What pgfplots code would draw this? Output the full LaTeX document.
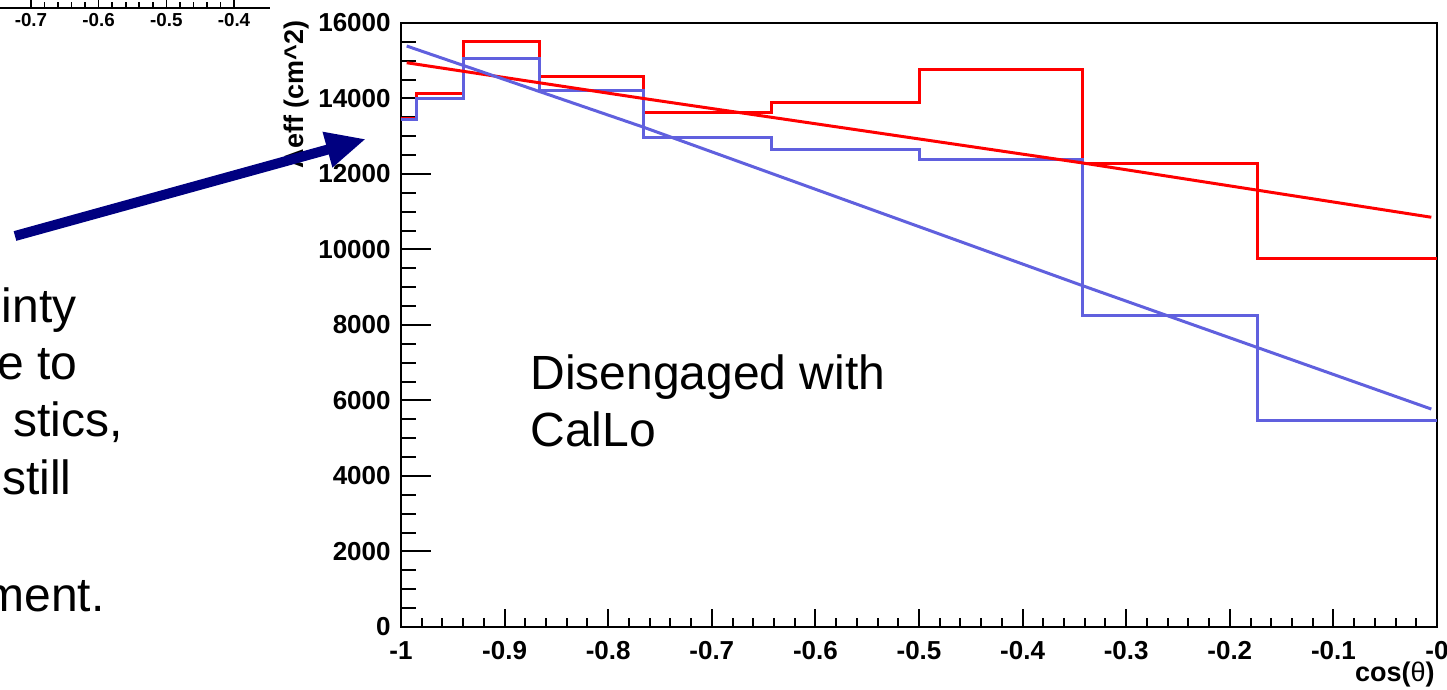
\documentclass[border=0pt]{standalone}
\usepackage{pgfplots}
\pgfplotsset{compat=1.18}
\usepackage{fontspec}
\setmainfont{Liberation Sans}
\usetikzlibrary{arrows.meta}
\definecolor{rootred}{RGB}{255,0,0}
\definecolor{rootblue}{RGB}{96,96,222}
\definecolor{arrownavy}{RGB}{0,0,128}

\begin{document}
\begin{tikzpicture}
\useasboundingbox (0,0) rectangle (723.5pt,345pt);

% fragment of the neighbouring plot (cut off at the top left)
\begin{axis}[
  at={(-18.35pt,341pt)}, anchor=south west,
  scale only axis, width=153.35pt, height=20pt,
  xmin=-0.8, xmax=-0.3468, ymin=0, ymax=1,
  axis x line*=bottom, axis y line=none,
  tick align=inside,
  xtick={-0.7,-0.6,-0.5,-0.4},
  xticklabels={-0.7,-0.6,-0.5,-0.4},
  extra x ticks={-0.8}, extra x tick labels={},
  minor x tick num=4,
  major tick length=6pt, minor tick length=3pt,
  axis line style={line width=1.3pt},
  tick style={line width=0.8pt, black},
  xticklabel style={font=\fontsize{9.4}{11}\selectfont\bfseries, anchor=north, inner sep=0pt, yshift=-2.5pt},
]
\addplot[draw=none] coordinates {(-0.7,0.5)};
\end{axis}

% main plot
\begin{axis}[
  at={(200.5pt,31.5pt)}, anchor=south west,
  scale only axis, width=518pt, height=302pt,
  xmin=-1, xmax=0, ymin=0, ymax=16000,
  tick align=inside,
  scaled y ticks=false, scaled x ticks=false,
  xtick={-1,-0.9,-0.8,-0.7,-0.6,-0.5,-0.4,-0.3,-0.2,-0.1,0},
  xticklabels={-1,-0.9,-0.8,-0.7,-0.6,-0.5,-0.4,-0.3,-0.2,-0.1,-0},
  ytick={0,2000,4000,6000,8000,10000,12000,14000,16000},
  yticklabels={0,2000,4000,6000,8000,10000,12000,14000,16000},
  minor x tick num=4, minor y tick num=3,
  xtick pos=bottom, ytick pos=left,
  x tick style={/pgfplots/major tick length=9pt, /pgfplots/minor tick length=4.5pt},
  y tick style={/pgfplots/major tick length=15pt, /pgfplots/minor tick length=7.5pt},
  axis line style={line width=1.2pt},
  tick style={line width=1pt, black},
  xticklabel style={font=\fontsize{13}{15}\selectfont\bfseries, anchor=north, inner sep=0pt, yshift=-7pt},
  yticklabel style={font=\fontsize{13}{15}\selectfont\bfseries, anchor=east, inner sep=0pt, xshift=-5pt},
]
% histograms, bins of 10 degrees in theta
\addplot[rootred, line width=1.5pt, const plot] coordinates {
  (-1,13480) (-0.98481,14135) (-0.93969,15513) (-0.86603,14577)
  (-0.76604,13622) (-0.64279,13887) (-0.5,14770) (-0.34202,12278)
  (-0.17365,9760) (0,9760)
};
\addplot[rootblue, line width=1.5pt, const plot] coordinates {
  (-1,13450) (-0.98481,14010) (-0.93969,15054) (-0.86603,14205)
  (-0.76604,12960) (-0.64279,12650) (-0.5,12384) (-0.34202,8255)
  (-0.17365,5463) (0,5463)
};
% fits
\addplot[rootred, line width=1.5pt] coordinates {
  (-0.9945,14947) (-0.767,14004) (-0.343,12296) (-0.0055,10854)
};
\addplot[rootblue, line width=1.5pt] coordinates {
  (-0.9945,15390) (-0.767,13250) (-0.343,9050) (-0.0055,5773)
};
\end{axis}

% axis titles
\node[rotate=90, anchor=east, inner sep=0pt, font=\fontsize{13.5}{15}\selectfont\bfseries]
  at (148.5pt,335pt) {Aeff (cm\textasciicircum 2)};
\node[anchor=base east, inner sep=0pt, font=\fontsize{13.5}{15}\selectfont]
  at (717.5pt,4pt) {\bfseries cos(\mdseries θ\bfseries)};

% slide annotations
\draw[arrownavy, line width=5pt, -{Triangle[length=20pt,width=17pt]}]
  (7.5pt,227pt) -- (183pt,275.5pt);

\node[anchor=base west, align=left, inner sep=0pt, font=\fontsize{24}{28.5}\selectfont]
  at (265pt,121.5pt) {Disengaged with\\CalLo};

\begin{scope}[every node/.style={anchor=base east, inner sep=0pt, font=\fontsize{24}{28.5}\selectfont}]
\node at (38.5pt,183.5pt) {inty};
\node at (39pt,155pt) {e to};
\node at (61.5pt,126.5pt) {stics,};
\node at (36pt,97.5pt) {still};
\node at (52.5pt,39pt) {ment.};
\end{scope}
\end{tikzpicture}
\end{document}
